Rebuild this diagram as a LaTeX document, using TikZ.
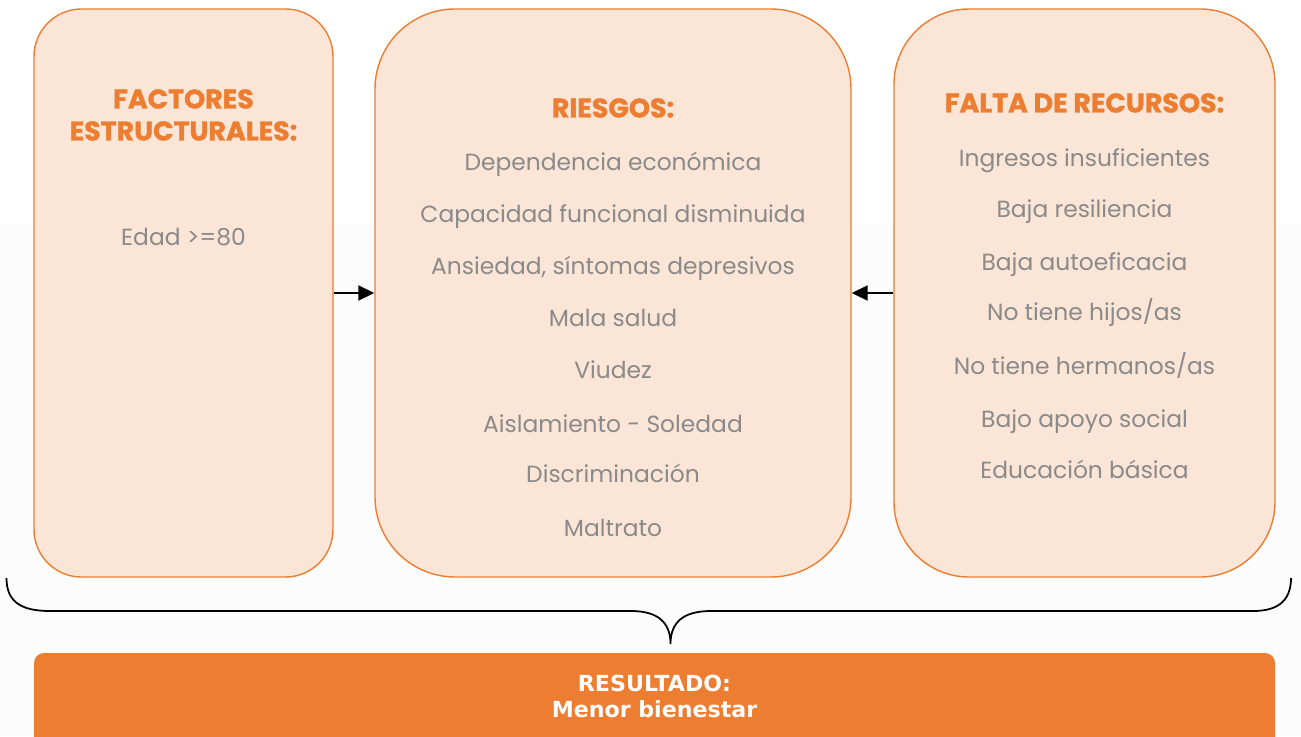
\documentclass[tikz,border=0pt]{standalone}
\usepackage{fontspec}
\setmainfont{Poppins}
\newfontfamily\titlefont{Poppins}[BoldFeatures={FakeBold=1.2}]
\newfontfamily\resfont{DejaVu Sans}
\usepackage{xcolor}
\usetikzlibrary{arrows.meta}
\definecolor{myorange}{HTML}{ED7D31}
\definecolor{mypeach}{HTML}{FBE5D6}
\definecolor{mygray}{HTML}{8A8A8A}
\tikzset{
  mybox/.style={
    draw=myorange,
    fill=mypeach,
    shape=rectangle,
    line width=0.8pt,
    minimum height=11.36cm,
  },
  mytitle/.style={
    text=myorange,
    align=center,
    font=\titlefont\fontsize{15.3}{18.2}\selectfont\bfseries,
  },
  myitem/.style={
    text=mygray,
    align=center,
    text height=1.5ex,
    text depth=0.3ex,
    yshift=-0.07cm,
    font=\fontsize{13.3}{17}\selectfont,
  },
  myarrow/.style={
    draw=black,
    line width=1.1pt,
    -{Triangle[length=0.32cm,width=0.3cm]},
  },
  mybrace/.style={
    draw=black,
    line width=1pt,
  },
  myresult/.style={
    fill=myorange,
    shape=rectangle,
    rounded corners=0.2cm,
    minimum width=24.82cm,
    minimum height=2.2cm,
  }
}

\begin{document}
\begin{tikzpicture}
    \useasboundingbox (0,0) rectangle (26.02,-14.72);
    \fill [black!1] (0,-4.5) rectangle (26.02,-14.72);

    \node [mybox, minimum width=5.98cm, rounded corners=0.95cm] (F)  at (3.67,  -5.86) {};
    \node [mybox, minimum width=9.52cm, rounded corners=1.6cm]  (R)  at (12.26, -5.86) {};
    \node [mybox, minimum width=7.62cm, rounded corners=1.5cm]  (FR) at (21.69, -5.86) {};

    \draw [myarrow] (F) -- (R);
    \draw [myarrow] (FR) -- (R);

    % Factores estructurales
    \node [mytitle] (Ft) at (3.67, -2.30) {FACTORES\\ESTRUCTURALES:};
    \node [myitem]  (F1) at (3.67, -4.72) {Edad >=80};

    % Riesgos
    \node [mytitle] (Rt) at (12.26, -2.16) {RIESGOS:};
    \node [myitem]  (R1) at (12.26, -3.22) {Dependencia económica};
    \node [myitem]  (R2) at (12.26, -4.26) {Capacidad funcional disminuida};
    \node [myitem]  (R3) at (12.26, -5.30) {Ansiedad, síntomas depresivos};
    \node [myitem]  (R4) at (12.26, -6.34) {Mala salud};
    \node [myitem]  (R5) at (12.26, -7.38) {Viudez};
    \node [myitem]  (R6) at (12.26, -8.46) {Aislamiento - Soledad};
    \node [myitem]  (R7) at (12.26, -9.46) {Discriminación};
    \node [myitem]  (R8) at (12.26, -10.54) {Maltrato};

    % Falta de recursos
    \node [mytitle] (FRt) at (21.69, -2.06) {FALTA DE RECURSOS:};
    \node [myitem]  (FR1) at (21.69, -3.14) {Ingresos insuficientes};
    \node [myitem]  (FR2) at (21.69, -4.16) {Baja resiliencia};
    \node [myitem]  (FR3) at (21.69, -5.22) {Baja autoeficacia};
    \node [myitem]  (FR4) at (21.69, -6.22) {No tiene hijos/as};
    \node [myitem]  (FR5) at (21.69, -7.30) {No tiene hermanos/as};
    \node [myitem]  (FR6) at (21.69, -8.36) {Bajo apoyo social};
    \node [myitem]  (FR7) at (21.69, -9.38) {Educación básica};

    % Llave
    \coordinate (braceL)   at (0.13, -11.56);
    \coordinate (braceR)   at (25.82, -11.56);
    \coordinate (braceTip) at (13.41, -12.88);
    \draw [mybrace] (braceL) .. controls (0.13, -12.02) and (0.40, -12.22) .. (1.00, -12.22)
        -- (12.62, -12.22) .. controls (13.16, -12.22) and (13.41, -12.45) .. (braceTip)
        .. controls (13.41, -12.45) and (13.66, -12.22) .. (14.22, -12.22)
        -- (25.06, -12.22) .. controls (25.55, -12.22) and (25.82, -12.02) .. (braceR);

    % Resultado
    \node [myresult] (Res) at (13.09, -14.16) {};
    \node [text=white, align=center, font=\resfont\bfseries\fontsize{12.6}{14.8}\selectfont] (ResT) at (13.09, -13.93) {RESULTADO:\\Menor bienestar};
\end{tikzpicture}
\end{document}
